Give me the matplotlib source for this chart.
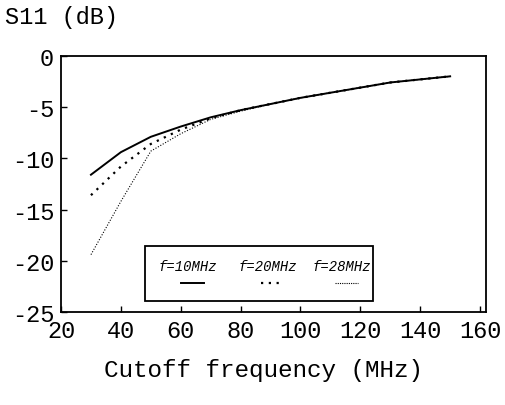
import matplotlib.pyplot as plt
import numpy as np

# data
freq = [30, 40, 50, 60, 70, 80, 90, 100, 110, 120, 130, 140, 150]
s11_10 = [-11.6, -9.4, -7.9, -6.9, -6.0, -5.3, -4.7, -4.1, -3.6, -3.1, -2.6, -2.3, -2.0]
s11_20 = [-13.6, -10.8, -8.6, -7.2, -6.1, -5.3, -4.7, -4.1, -3.6, -3.1, -2.6, -2.3, -2.0]
s11_28 = [-19.4, -14.2, -9.3, -7.6, -6.2, -5.4, -4.7, -4.1, -3.6, -3.1, -2.6, -2.3, -2.0]
labels = ['f=10MHz', 'f=20MHz', 'f=28MHz']

xticks = [20, 40, 60, 80, 100, 120, 140, 160]
yticks = [0, -5, -10, -15, -20, -25]

plt.rcParams['font.family'] = 'Liberation Mono'

fig = plt.figure(figsize=(5.06, 4.06), dpi=100)
ax = fig.add_axes([0.1206, 0.229, 0.84, 0.631])

ax.plot(freq, s11_10, color='black', lw=1.4, ls='-')
ax.plot(freq, s11_20, color='black', lw=1.6, ls=(0, (1, 2.5)))
ax.plot(freq, s11_28, color='black', lw=0.8, ls=(0, (1, 1.5)))

ax.set_xlim(20, 162)
ax.set_ylim(-25, 0)
ax.set_xticks(xticks)
ax.set_yticks(yticks)
ax.set_xticklabels([str(t) for t in xticks], fontsize=17)
ax.set_yticklabels([str(t) for t in yticks], fontsize=17)
ax.tick_params(direction='in', length=4, width=1, pad=5)
# bottom y label sits above the corner, as in the original
ax.get_yticklabels()[-1].set_va('center_baseline')
for s in ax.spines.values():
    s.set_linewidth(1.3)

fig.text(0.01, 0.985, 'S11 (dB)', fontsize=17, va='top', ha='left')
fig.text(0.52, 0.06, 'Cutoff frequency (MHz)', fontsize=17.5, va='bottom', ha='center')

# legend box
leg = plt.Rectangle((0.198, 0.043), 0.536, 0.215, transform=ax.transAxes,
                    fill=False, lw=1.3, color='black')
ax.add_patch(leg)
styles = [dict(ls='-', lw=1.4), dict(ls=(0, (1, 2.5)), lw=1.6), dict(ls=(0, (1, 1.0)), lw=0.8)]
xs = [0.299, 0.487, 0.661]
for x, lab, st in zip(xs, labels, styles):
    ax.text(x, 0.18, lab, transform=ax.transAxes, fontsize=10, style='italic',
            ha='center', va='center')
    ax.plot([x - 0.017, x + 0.037], [0.112, 0.112], transform=ax.transAxes,
            color='black', **st)

fig.savefig('out.png', dpi=100)
